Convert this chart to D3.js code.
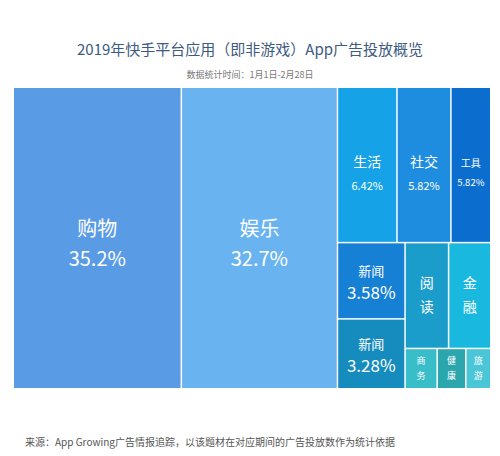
<!DOCTYPE html><html><head><meta charset="utf-8"><script src="https://cdn.jsdelivr.net/npm/d3@7"></script>
<style>body{margin:0;background:#fff;font-family:"Noto Sans CJK SC","Noto Sans",sans-serif}</style></head><body><svg id="c" width="500" height="456"></svg>
<script>
const names=["购物","娱乐","生活","社交","工具","新闻","新闻","阅读","金融","商务","健康","旅游"];
const values=[35.2,32.7,6.42,5.82,4.3,3.58,3.28,3.2,3.1,0.9,0.8,0.7];
const labels=["35.2%","32.7%","6.42%","5.82%","5.82%","3.58%","3.28%","","","","",""];
const colors=["#5a9be5","#69b3f0","#16a2e6","#1e8de0","#0b6dcd","#1580d4","#168bbd","#1b9dcb","#19b9df","#38bdc9","#2ca6ad","#4ac6d6"];
const leaf=i=>({i,value:values[i]});
const tree={children:[leaf(0),leaf(1),{children:[{children:[leaf(2),leaf(3),leaf(4)]},{children:[{children:[leaf(5),leaf(6)]},{children:[{children:[leaf(7),leaf(8)]},{children:[leaf(9),leaf(10),leaf(11)]}]}]}]}]};
const svg=d3.select("#c");
svg.append("text").attr("x",250).attr("y",55).attr("text-anchor","middle").attr("font-size",15).attr("fill","#3d5a80").text("2019年快手平台应用（即非游戏）App广告投放概览");
svg.append("text").attr("x",250).attr("y",78).attr("text-anchor","middle").attr("font-size",9).attr("fill","#777").text("数据统计时间：1月1日-2月28日");
const root=d3.hierarchy(tree).sum(d=>d.value||0);
d3.treemap().tile(d3.treemapSliceDice).size([476,300]).paddingInner(1.5).round(false)(root);
const g=svg.append("g").attr("transform","translate(14,88)");
const ls=root.leaves();
g.selectAll("rect").data(ls).join("rect").attr("x",d=>d.x0).attr("y",d=>d.y0).attr("width",d=>d.x1-d.x0).attr("height",d=>d.y1-d.y0).attr("fill",d=>colors[d.data.i]);
ls.forEach(d=>{const i=d.data.i,cx=(d.x0+d.x1)/2,cy=(d.y0+d.y1)/2;
 const t=g.append("g").attr("fill","#fff").attr("text-anchor","middle");
 if(i<2){t.append("text").attr("x",cx).attr("y",cy-2).attr("font-size",20).text(names[i]);t.append("text").attr("x",cx).attr("y",cy+28).attr("font-size",20).text(labels[i]);}
 else if(i<5){const fs=i==4?10:14;t.append("text").attr("x",cx).attr("y",d.y0+79).attr("font-size",fs).text(names[i]);t.append("text").attr("x",cx).attr("y",d.y0+(i==4?98:102)).attr("font-size",i==4?9.5:11).text(labels[i]);}
 else if(i<7){t.append("text").attr("x",cx).attr("y",cy-5).attr("font-size",13).text(names[i]);t.append("text").attr("x",cx).attr("y",cy+18).attr("font-size",17).text(labels[i]);}
 else {const fs=i<9?14:9,gap=i<9?24:15;const c=[...names[i]];t.append("text").attr("x",cx).attr("y",cy-gap/2+fs*0.35).attr("font-size",fs).text(c[0]);t.append("text").attr("x",cx).attr("y",cy+gap/2+fs*0.35).attr("font-size",fs).text(c[1]);}
});
svg.append("text").attr("x",25).attr("y",446).attr("font-size",10).attr("fill","#555").text("来源：App Growing广告情报追踪，以该题材在对应期间的广告投放数作为统计依据");
</script></body></html>
